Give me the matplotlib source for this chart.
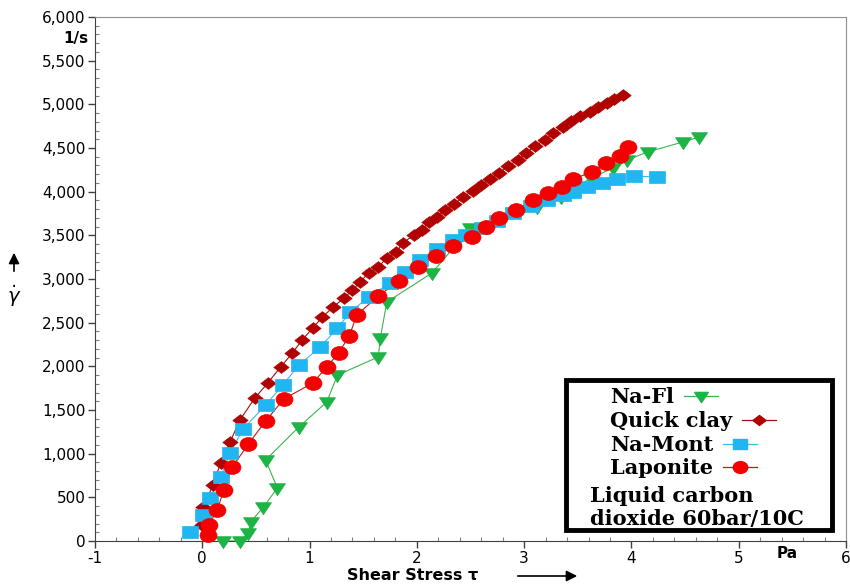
import matplotlib
matplotlib.use("Agg")
import matplotlib.pyplot as plt
from matplotlib.ticker import MultipleLocator, FuncFormatter
from matplotlib.patches import Rectangle
from matplotlib.lines import Line2D
from matplotlib.path import Path
from matplotlib.transforms import Affine2D

plt.rcParams['font.family'] = ['DejaVu Sans']
plt.rcParams['axes.unicode_minus'] = False

# shear stress (Pa) vs shear rate (1/s)
fl_x = [0.19, 0.35, 0.43, 0.45, 0.57, 0.70, 0.59, 0.90, 1.16, 1.26, 1.64, 1.66,
        1.72, 2.14, 2.50, 3.12, 3.34, 3.62, 3.83, 3.96, 4.15, 4.48, 4.63]
fl_y = [0, 0, 92, 218, 389, 607, 927, 1305, 1591, 1900, 2107, 2325,
        2737, 3068, 3584, 3824, 3939, 4156, 4271, 4362, 4454, 4569, 4626]

quick_x = [0.00, 0.01, 0.10, 0.17, 0.26, 0.35, 0.49, 0.61, 0.73, 0.84, 0.93,
           1.03, 1.12, 1.22, 1.32, 1.40, 1.47, 1.55, 1.64, 1.72, 1.81, 1.87,
           1.97, 2.05, 2.11, 2.19, 2.26, 2.35, 2.43, 2.52, 2.60, 2.68, 2.77,
           2.85, 2.94, 3.02, 3.10, 3.19, 3.27, 3.36, 3.44, 3.52, 3.61, 3.69,
           3.77, 3.84, 3.92]
quick_y = [183, 389, 641, 893, 1134, 1385, 1637, 1809, 1992, 2153, 2301,
           2439, 2565, 2679, 2782, 2874, 2966, 3069, 3137, 3240, 3309, 3412,
           3504, 3561, 3653, 3710, 3790, 3859, 3939, 4008, 4076, 4145, 4214,
           4294, 4362, 4443, 4523, 4591, 4672, 4740, 4809, 4866, 4912, 4969,
           5015, 5061, 5107]

mont_x = [-0.11, 0.01, 0.07, 0.17, 0.26, 0.38, 0.59, 0.75, 0.90, 1.10, 1.26,
          1.38, 1.55, 1.75, 1.89, 2.03, 2.19, 2.34, 2.46, 2.61, 2.75, 2.90,
          3.06, 3.21, 3.36, 3.46, 3.59, 3.73, 3.87, 4.02, 4.24]
mont_y = [103, 298, 492, 733, 1008, 1282, 1557, 1786, 2015, 2221, 2439,
          2622, 2794, 2954, 3080, 3217, 3343, 3446, 3504, 3584, 3664, 3756,
          3836, 3904, 3962, 3996, 4053, 4099, 4145, 4179, 4168]

lap_x = [0.05, 0.06, 0.14, 0.20, 0.28, 0.43, 0.59, 0.76, 1.03, 1.16, 1.27,
         1.37, 1.44, 1.64, 1.83, 2.01, 2.18, 2.34, 2.51, 2.64, 2.77, 2.92,
         3.08, 3.22, 3.35, 3.46, 3.63, 3.76, 3.89, 3.97]
lap_y = [69, 183, 355, 584, 847, 1111, 1374, 1626, 1809, 1992, 2153,
         2347, 2588, 2805, 2977, 3137, 3263, 3378, 3481, 3595, 3698, 3790,
         3904, 3985, 4053, 4145, 4225, 4328, 4408, 4511]

labels = ["Na-Fl", "Quick clay", "Na-Mont", "Laponite"]
note = ["Liquid carbon", "dioxide 60bar/10C"]


def closed(pts):
    return Path(pts + [pts[0]], [Path.MOVETO] + [Path.LINETO] * (len(pts) - 1)
                + [Path.CLOSEPOLY])


# slightly flattened marker shapes
tri_down = closed([(-1, 0.6), (1, 0.6), (0, -0.9)])
diamond = closed([(-1, 0), (0, 0.77), (1, 0), (0, -0.77)])
square = closed([(-1, -0.76), (1, -0.76), (1, 0.76), (-1, 0.76)])
ellipse = Path.unit_circle().transformed(Affine2D().scale(1, 0.82))

# colour, line colour, marker, marker size
styles = [
    ("#1db345", "#3cb44b", tri_down, 11.5),
    ("#b00000", "#a01010", diamond, 11),
    ("#1fb6f2", "#40b8e8", square, 12.2),
    ("#f40000", "#c01818", ellipse, 12.2),
]

W, H = 850, 587
fig = plt.figure(figsize=(W / 100, H / 100), dpi=100)
ax = fig.add_axes([95 / W, 1 - 541 / H, 751 / W, 524 / H])

series = [(fl_x, fl_y), (quick_x, quick_y), (mont_x, mont_y), (lap_x, lap_y)]
for (xs, ys), (c, lc, m, ms) in zip(series, styles):
    ax.plot(xs, ys, color=lc, lw=0.8, clip_on=False, zorder=2)
    ax.plot(xs, ys, ls="none", marker=m, ms=ms, color=c, mec=c, mew=0.5,
            clip_on=False, zorder=3)

ax.set_xlim(-1, 6)
ax.set_ylim(0, 6000)
ax.xaxis.set_major_locator(MultipleLocator(1))
ax.xaxis.set_minor_locator(MultipleLocator(0.2))
ax.yaxis.set_major_locator(MultipleLocator(500))
ax.yaxis.set_minor_locator(MultipleLocator(100))
ax.yaxis.set_major_formatter(FuncFormatter(lambda v, p: f"{v:,.0f}"))
ax.xaxis.set_major_formatter(FuncFormatter(lambda v, p: f"{v:.0f}"))
ax.tick_params(which="major", direction="out", length=5, width=1,
               color="#404040", labelsize=11, pad=2)
ax.tick_params(which="minor", direction="in", length=3, width=0.8,
               color="#808080")
for s in ["left", "bottom"]:
    ax.spines[s].set_color("#404040")
for s in ["top", "right"]:
    ax.spines[s].set_color("#909090")

# units and axis titles
fig.text(88 / W, 1 - 38 / H, "1/s", ha="right", va="center",
         fontsize=11, fontweight="bold")
fig.text(787 / W, 1 - 554 / H, "Pa", ha="center", va="center",
         fontsize=11, fontweight="bold")
fig.text(413 / W, 1 - 576 / H, "Shear Stress \u03c4", ha="center",
         va="center", fontsize=11.5, fontweight="bold")
ax.annotate("", xy=(580 / W, 1 - 576 / H), xytext=(515 / W, 1 - 576 / H),
            xycoords="figure fraction",
            arrowprops=dict(arrowstyle="-|>", color="black", lw=1.2,
                            mutation_scale=16))
ax.annotate("", xy=(14 / W, 1 - 250 / H), xytext=(14 / W, 1 - 274 / H),
            xycoords="figure fraction",
            arrowprops=dict(arrowstyle="-|>", color="black", lw=1.2,
                            mutation_scale=16))
fig.text(14 / W, 1 - 296 / H, r"$\dot{\gamma}$", ha="center", va="center",
         fontsize=14)

# legend box with the sample handle drawn right after each label
box = Rectangle((566 / W, 1 - 530 / H), 266 / W, 150 / H,
                transform=fig.transFigure, facecolor="white",
                edgecolor="black", lw=3.5, zorder=5)
fig.add_artist(box)

serif = dict(family="DejaVu Serif", fontweight="bold", fontsize=15)
label_y = [397, 421, 445, 468]
texts = []
for lab, yy in zip(labels, label_y):
    t = fig.text(610 / W, 1 - yy / H, lab, ha="left", va="center",
                 zorder=6, **serif)
    texts.append(t)
for txt, yy in zip(note, [496, 519]):
    fig.text(590 / W, 1 - yy / H, txt, ha="left", va="center",
             zorder=6, **serif)

fig.canvas.draw()
r = fig.canvas.get_renderer()
for t, yy, (c, lc, m, ms) in zip(texts, label_y, styles):
    x_end = t.get_window_extent(r).x1
    x0 = x_end + 10
    xs = [x0 / W, (x0 + 17) / W, (x0 + 34) / W]
    ys = [1 - (yy - 1) / H] * 3
    fig.add_artist(Line2D(xs, ys, transform=fig.transFigure, color=lc,
                          lw=0.9, marker=m, ms=ms * 0.85, mfc=c, mec=c,
                          markevery=[1], zorder=6))

fig.savefig("out.png", dpi=100)
